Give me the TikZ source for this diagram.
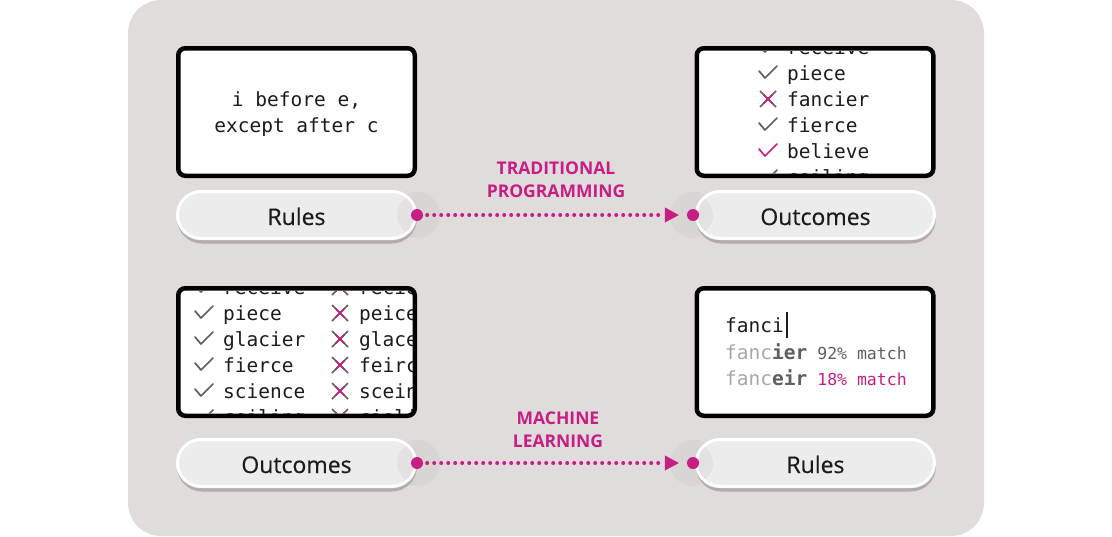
\documentclass[tikz,border=0pt]{standalone}
\usepackage{fontspec}
\usetikzlibrary{arrows.meta,calc}
\newfontfamily\monof{DejaVu Sans Mono}
\newfontfamily\sansf{Open Sans}
\newfontfamily\pillf[FakeBold=0.5]{Open Sans}
\definecolor{bgc}{RGB}{224,220,220}
\definecolor{mag}{RGB}{198,30,132}
\definecolor{pillc}{RGB}{237,236,236}
\definecolor{shadc}{RGB}{180,172,172}
\definecolor{haloc}{RGB}{217,213,213}
\definecolor{innerc}{RGB}{227,225,225}
\definecolor{inkc}{RGB}{28,28,28}
\definecolor{greyc}{RGB}{95,95,95}
\definecolor{lightc}{RGB}{172,167,167}
\newcommand\tickmark[3]{\draw[#3, line width=1.7pt, line cap=round, line join=round] (#1-9,#2-2) -- (#1-3,#2+5) -- (#1+9,#2-7);}
\newcommand\crossmark[2]{\draw[greyc, line width=1.6pt] (#1-8,#2-8) -- (#1+8,#2+8) (#1-8,#2+8) -- (#1+8,#2-8);
  \draw[mag, line width=1.6pt] (#1-4.5,#2-4.5) -- (#1+4.5,#2+4.5) (#1-4.5,#2+4.5) -- (#1+4.5,#2-4.5);}
\begin{document}
\begin{tikzpicture}[x=1pt,y=-1pt,
  panel/.style={draw=black, line width=4.5pt, fill=white, rounded corners=7pt, minimum width=236.5pt, minimum height=127.5pt, inner sep=0pt},
  pill/.style={draw=white, line width=3pt, fill=pillc, rounded corners=23.5pt, minimum width=238pt, minimum height=47pt, inner sep=0pt, text height=20pt, text depth=0pt, font=\pillf\fontsize{23}{23}\selectfont, text=inkc},
  pillshadow/.style={fill=shadc, rounded corners=25pt},
  halo/.style={fill=haloc},
  port/.style={circle, fill=mag, minimum size=12pt, inner sep=0pt},
  row/.style={anchor=base west, inner sep=0pt, text=inkc, font=\monof\fontsize{19.5}{20}\selectfont},
  flow/.style={mag, line width=4pt, line cap=round, dash pattern=on 0pt off 7pt, shorten <=4pt, shorten >=8pt, -{Triangle[length=14pt,width=15pt,line width=0.5pt]}},
  flowlabel/.style={align=center, inner sep=0pt, text=mag, font=\sansf\bfseries\fontsize{17.5}{23}\selectfont}
]
\useasboundingbox (0,0) rectangle (1112,536);
\fill[bgc, rounded corners=33pt] (128,0) rectangle (984,536);

% halos around ports
\fill[halo] (417,215) circle (23);
\fill[halo] (693,215) circle (23);
\fill[halo] (417,463) circle (23);
\fill[halo] (693,463) circle (23);

% pill shadows
\fill[pillshadow] (177,193.5) rectangle (417,243.5);
\fill[pillshadow] (696,193.5) rectangle (936,243.5);
\fill[pillshadow] (177,441.5) rectangle (417,491.5);
\fill[pillshadow] (696,441.5) rectangle (936,491.5);

% pills
\node[pill] (p1) at (296.5,215) {};
\node[pill] (p2) at (815.5,215) {};
\node[pill] (p3) at (296.5,463) {};
\node[pill] (p4) at (815.5,463) {};

\foreach \p/\cx/\cy in {p1/417/215, p2/693/215, p3/417/463, p4/693/463}{
  \begin{scope}
    \clip[rounded corners=22pt] ($(\p.north west)+(3,3)$) rectangle ($(\p.south east)+(-3,-3)$);
    \fill[innerc] (\cx,\cy) circle (20);
  \end{scope}
}
\node[pill, fill=none, draw=none] (t1) at (p1) {Rules};
\node[pill, fill=none, draw=none] (t2) at (p2) {Outcomes};
\node[pill, fill=none, draw=none] (t3) at (p3) {Outcomes};
\node[pill, fill=none, draw=none] (t4) at (p4) {Rules};

% ports
\node[port] (d1) at (417,215) {};
\node[port] (d2) at (693,215) {};
\node[port] (d3) at (417,463) {};
\node[port] (d4) at (693,463) {};

% panels
\node[panel] (b1) at (296.5,112) {};
\node[panel] (b2) at (815,112) {};
\node[panel] (b3) at (296.5,352) {};
\node[panel] (b4) at (815,352) {};

% panel 1 text
\node[align=center, inner sep=0pt, text=inkc, font=\monof\fontsize{19.5}{26}\selectfont] (rule) at (296.5,114) {i before e,\\except after c};

% panel 2 list
\begin{scope}
  \clip[rounded corners=4pt] ($(b2.north west)+(4.5,4.5)$) rectangle ($(b2.south east)+(-4.5,-4.5)$);
  \tickmark{768}{47}{greyc}
  \node[row] (o1) at (787,54.5) {receive};
  \tickmark{768}{73}{greyc}
  \node[row] (o2) at (787,80.5) {piece};
  \crossmark{768}{99}
  \node[row] (o3) at (787,106.5) {fancier};
  \tickmark{768}{125}{greyc}
  \node[row] (o4) at (787,132.5) {fierce};
  \tickmark{768}{151}{mag}
  \node[row] (o5) at (787,158.5) {believe};
  \tickmark{768}{177}{greyc}
  \node[row] (o6) at (787,184.5) {ceiling};
\end{scope}

% panel 3 lists
\begin{scope}
  \clip[rounded corners=4pt] ($(b3.north west)+(4.5,4.5)$) rectangle ($(b3.south east)+(-4.5,-4.5)$);
  \tickmark{204}{287}{greyc}
  \node[row] (g1) at (223,294.5) {receive};
  \tickmark{204}{313}{greyc}
  \node[row] (g2) at (223,320.5) {piece};
  \tickmark{204}{339}{greyc}
  \node[row] (g3) at (223,346.5) {glacier};
  \tickmark{204}{365}{greyc}
  \node[row] (g4) at (223,372.5) {fierce};
  \tickmark{204}{391}{greyc}
  \node[row] (g5) at (223,398.5) {science};
  \tickmark{204}{417}{greyc}
  \node[row] (g6) at (223,424.5) {ceiling};
  \crossmark{340}{287}
  \node[row] (w1) at (359,294.5) {recieve};
  \crossmark{340}{313}
  \node[row] (w2) at (359,320.5) {peice};
  \crossmark{340}{339}
  \node[row] (w3) at (359,346.5) {glaceir};
  \crossmark{340}{365}
  \node[row] (w4) at (359,372.5) {feirce};
  \crossmark{340}{391}
  \node[row] (w5) at (359,398.5) {sceince};
  \crossmark{340}{417}
  \node[row] (w6) at (359,424.5) {cieling};
\end{scope}

% panel 4 autocomplete
\node[row] (typed) at (725,332) {fanci};
\draw[inkc, line width=2pt] (787,312) -- (787,338);
\node[row] (s1) at (725,359) {\color{lightc}fanc\color{greyc}\bfseries ier\mdseries\fontsize{16.5}{16}\selectfont\ 92\% match};
\node[row] (s2) at (725,385) {\color{lightc}fanc\color{greyc}\bfseries eir\mdseries\fontsize{16.5}{16}\selectfont\ \color{mag}18\% match};

% connectors
\draw[flow] (d1) -- (d2);
\draw[flow] (d3) -- (d4);
\node[flowlabel] (l1) at (556,179.5) {TRADITIONAL\\PROGRAMMING};
\node[flowlabel] (l2) at (558,429.5) {MACHINE\\LEARNING};
\end{tikzpicture}
\end{document}
